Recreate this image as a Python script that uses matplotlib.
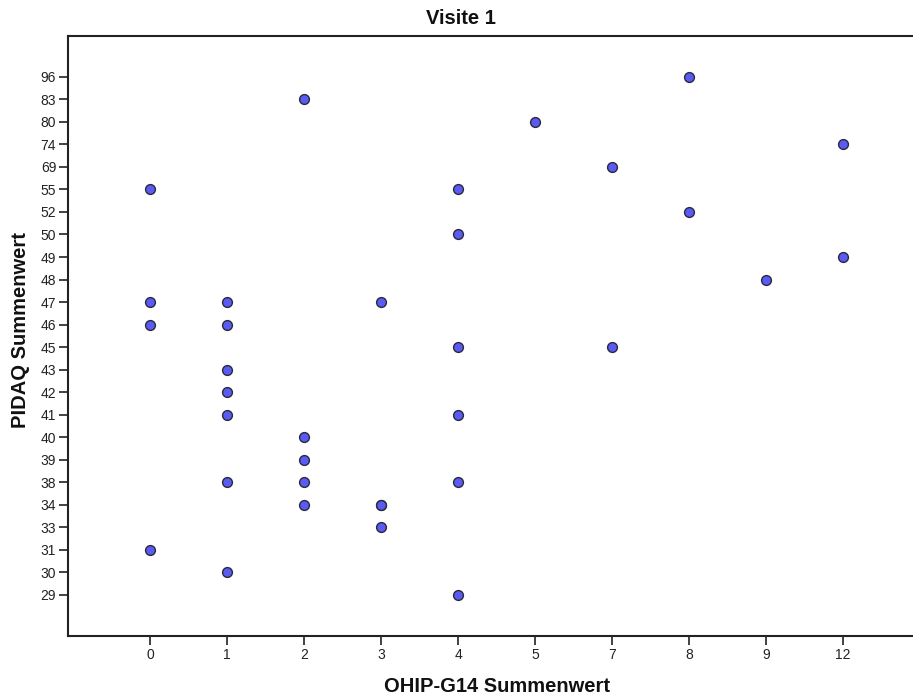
import matplotlib
matplotlib.use("Agg")
import matplotlib.pyplot as plt

plt.rcParams['font.family'] = ['Liberation Sans', 'DejaVu Sans']

x_categories = [0, 1, 2, 3, 4, 5, 7, 8, 9, 12]
y_categories = [29, 30, 31, 33, 34, 38, 39, 40, 41, 42, 43, 45, 46, 47, 48, 49,
                50, 52, 55, 69, 74, 80, 83, 96]

ohip = [0, 0, 0, 0,
        1, 1, 1, 1, 1, 1, 1,
        2, 2, 2, 2, 2,
        3, 3, 3, 3,
        4, 4, 4, 4, 4, 4,
        5,
        7, 7,
        8, 8,
        9,
        12, 12]
pidaq = [55, 47, 46, 31,
         47, 46, 43, 42, 41, 38, 30,
         83, 40, 39, 38, 34,
         47, 34, 34, 33,
         55, 50, 45, 41, 38, 29,
         80,
         69, 45,
         96, 52,
         48,
         74, 49]

W, H = 913, 700
fig = plt.figure(figsize=(W / 100, H / 100), dpi=100)
ax = fig.add_axes([68 / W, 1 - 636 / H, 1 - 68 / W, (636 - 36) / H])

xi = [x_categories.index(v) for v in ohip]
yi = [y_categories.index(v) for v in pidaq]
ax.scatter(xi, yi, s=50, facecolor='#5a5af5', edgecolor='#2a2a3a',
           linewidth=1.0, zorder=3, clip_on=False)

ax.set_xlim(-1.07, 9.91)
ax.set_ylim(-1.84, 24.82)
ax.set_xticks(range(len(x_categories)))
ax.set_xticklabels([str(v) for v in x_categories])
ax.set_yticks(range(len(y_categories)))
ax.set_yticklabels([str(v) for v in y_categories])
ax.tick_params(axis='both', labelsize=10, color='#222222', length=6.5, width=1.2,
               labelcolor='#222222', pad=2)

for side in ['left', 'bottom', 'top']:
    ax.spines[side].set_linewidth(1.5)
    ax.spines[side].set_color('#222222')
ax.spines['right'].set_visible(False)

fig.text(461 / W, 1 - 18 / H, 'Visite 1', ha='center', va='center',
         fontsize=14.5, fontweight='bold', color='#111111')
fig.text(497 / W, 1 - 686 / H, 'OHIP-G14 Summenwert', ha='center', va='center',
         fontsize=14.5, fontweight='bold', color='#111111')
fig.text(20 / W, 1 - 330 / H, 'PIDAQ Summenwert', ha='center', va='center',
         rotation=90, fontsize=14.5, fontweight='bold', color='#111111')

fig.savefig('out.png', dpi=100)
